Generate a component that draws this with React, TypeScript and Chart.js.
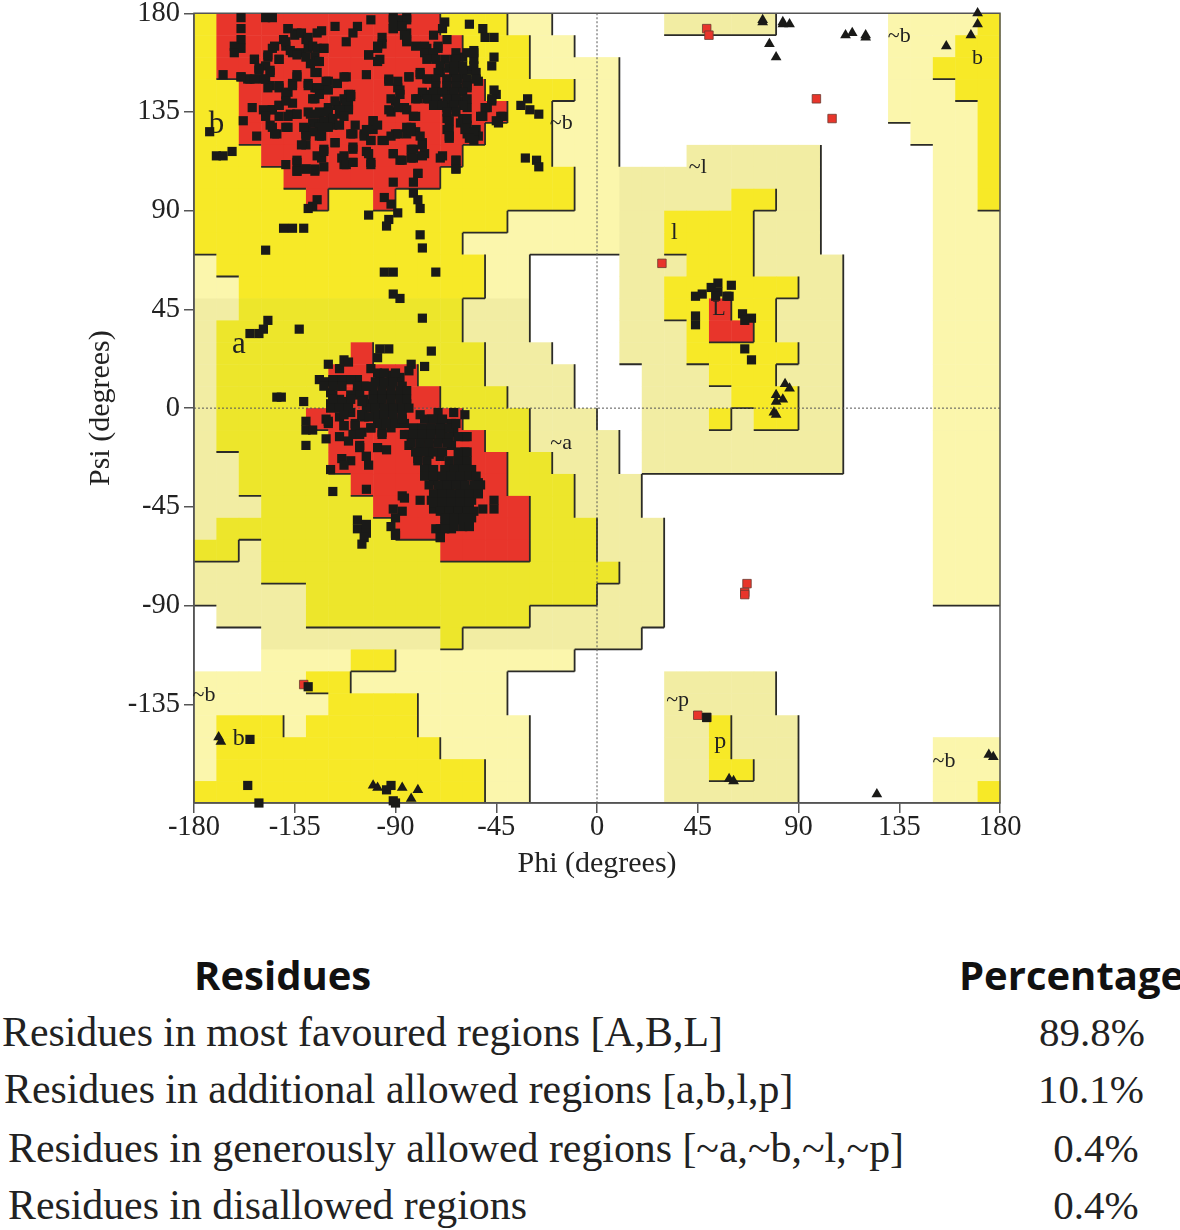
import React, { useEffect, useRef } from "react";
import { Chart, registerables } from "chart.js";

Chart.register(...registerables);

// Region map, one run-length string per psi row (top row psi 170..180), 10 degree cells from phi -180.
// . outside, p generous, k generous (tinted), y allowed, o allowed (tinted), r core
const regionRows = [
  "y1r10y3p2.2.3k5.5p4y1",
  "y1r11y3p2.1.13p3y2",
  "y1r11y3p3p1.12p2y3",
  "y2r11y4p1p1.12p3y2",
  "y2r12y2p2p1.12p4y1",
  "y2r11y3p2p1.13p3y1",
  "y3r9y4p2p1.3k6.5p2y1",
  "y4r7y6p1p1k9.5p2y1",
  "y5r1y2r1y8p1p1k5y2k2.5p2y1",
  "y14p4p1k2y4k3.5p3",
  "y12p6p1k2y4k3.5p3",
  "p1y12p2.3.1k3y3k4.4p3",
  "p2y11p2.3.1k2y6k2.4p3",
  "k2o10k3.3.1k2y2r1y2k3.4p3",
  "k1o11k3.3.1k3y1r2y1k3.4p3",
  "k1o6r1o5k3.2.1k3y5k2.4p3",
  "k1o5r4o3k4.1.2k3y3k3.4p3",
  "k1o5r5o3k3.1.2k4y3k2.4p3",
  "k1o4r7o3k3.2k3y1k1y2k2.4p3",
  "k1o5r7o2k3k1.1k9.4p3",
  "k2o4r8o2k2k1.1k9.4p3",
  "k2o5r7o3k1k2.13p3",
  "k3o5r7o2k1k2.13p3",
  "k1o8r6o3k3.12p3",
  "o2k1o8r4o3k3.12p3",
  "k3o15o1k2.12p3",
  "k5o13k3.12p3",
  ".1k4o10k3k3.15",
  ".3k8o1k6k2.16",
  ".3p4y2p8.1.18",
  "p5y2p7.4.3k5.10",
  "p6y4p4.4.3k5.10",
  "p1y3p1y5p5.3.3k2y1k3.9",
  "p1y10p4.3.3k2y1k3.6p3",
  "p1y12p2.3.3k2y2k2.6p3",
  "y13p2.3.3k6.6p2y1",
];

const regionColors: Record<string, string> = {
  p: "#FBF6AC",
  k: "#F2EDA3",
  y: "#F7E927",
  o: "#EDE62B",
  r: "#E8352B",
};
const regionLevel: Record<string, number> = { ".": 0, p: 1, k: 1, y: 2, o: 2, r: 3 };

const regionLabels: [string, number, number, number][] = [
  ["b", -170, 129, 31],
  ["~b", -16, 130, 22],
  ["~l", 45, 110, 22],
  ["l", 34.5, 80, 24],
  ["L", 54.5, 45, 22],
  ["a", -160, 29, 31],
  ["~a", -16, -16, 22],
  ["~b", 135, 169.5, 22],
  ["b", 170, 159.5, 22],
  ["~b", -175.5, -131, 22],
  ["b", -160, -150.5, 24],
  ["~p", 36, -133, 22],
  ["p", 55, -152, 24],
  ["~b", 155, -161, 22],
];

const generalResidues: [number, number][] = [
  [-159,178],[-159,173],[-159,168],[-162,165],[-159,164],[-162,162],[-148,178],[-145,178],[-167,152],[-159,151],[-155,150],
  [-138,173],[-140,168],[-139,165],[-136,162],[-132,162],[-129,164],[-130,168],[-134,171],[-123,172],[-125,171],[-117,174],[-122,164],[-126,160],[-125,158],
  [-145,164],[-147,160],[-142,159],[-153,159],[-151,155],[-146,154],[-148,150],[-146,147],[-142,146],[-138,144],[-134,151],[-136,148],
  [-125,153],[-129,148],[-126,146],[-120,149],[-122,146],[-126,141],[-116,148],[-112,151],[-111,143],
  [-107,174],[-109,171],[-112,167],[-96,169],[-96,166],[-98,164],[-101,177],[-102,161],[-97,159],[-103,152],
  [-91,178],[-85,178],[-89,175],[-91,173],[-85,171],[-85,167],[-81,165],[-68,176],[-69,173],[-73,170],[-67,168],[-57,175],[-51,173],[-50,169],[-46,169],[-46,160],[-47,156],
  [-76,164],[-71,164],[-74,160],[-68,159],[-64,159],[-60,160],[-55,163],[-55,159],[-66,155],[-61,155],[-57,154],[-70,153],[-67,150],[-62,150],[-58,149],[-53,149],
  [-62,146],[-58,146],[-67,146],[-72,143],[-77,143],[-80,141],[-75,141],[-71,139],[-65,142],[-60,140],[-58,137],[-67,137],[-67,132],[-67,127],[-66,123],
  [-60,132],[-58,129],[-54,127],[-53,124],[-58,125],[-45,143],[-47,140],[-49,137],[-51,133],[-42,133],[-44,130],
  [-31,141],[-34,138],[-30,136],[-26,134],[-32,114],[-27,113],[-26,110],
  [-116,138],[-120,137],[-111,138],[-110,143],[-115,134],[-119,132],[-124,135],[-129,135],[-113,141],[-118,129],[-123,130],[-127,130],[-130,127],[-130,125],[-124,124],
  [-154,137],[-158,131],[-152,124],[-148,135],[-145,136],[-142,138],[-136,139],[-137,134],[-134,134],[-146,129],[-143,125],[-138,128],
  [-130,120],[-139,111],[-134,112],[-134,108],[-130,109],[-126,108],[-122,110],[-125,115],[-122,118],[-117,121],[-109,118],[-113,115],[-113,111],[-109,112],[-103,117],[-101,112],
  [-108,129],[-100,131],[-109,125],[-104,125],[-100,127],[-101,122],[-96,122],[-90,125],[-92,135],[-86,137],[-81,133],[-85,128],[-81,126],[-78,121],[-83,118],[-77,116],[-83,114],[-88,113],[-91,116],
  [-69,115],[-63,113],[-63,109],[-93,150],[-89,146],[-90,140],[-84,151],[-79,153],[-75,150],[-91,103],[-80,107],[-82,103],
  [-125,95],[-127,92],[-129,91],[-95,96],[-92,93],[-89,89],[-93,86],[-94,83],[-102,88],[-82,98],[-80,95],[-79,91],
  [-140,82],[-136,82],[-131,82],[-148,72],[-79,79],[-78,73],[-173,126],[-170,115],[-167,115],[-163,117],
  [-95,62],[-91,62],[-72,62],[-91,52],[-88,50],[-78,41],[-147,40],[-149,36],[-151,34],[-155,34],[-133,36],
  [-74,26],[-77,19],[-93,27],[-97,27],[-98,23],[-83,20],[-84,17],[-120,20],[-113,22],[-111,21],[-115,18],[-124,13],[-121,12],[-116,13],[-111,13],[-107,13],[-104,10],[-101,18],
  [-119,7],[-114,10],[-119,2],[-115,4],[-111,3],[-107,7],
  [-97,15],[-92,15],[-88,14],[-96,11],[-92,11],[-87,10],[-98,6],[-94,6],[-90,6],[-86,6],[-101,2],[-97,2],[-92,2],[-88,0],[-85,2],[-94,-2],[-98,-4],
  [-143,5],[-141,5],[-131,3],[-130,-6],[-130,-10],[-127,-10],[-130,-17],[-121,-5],[-120,-7],[-121,-14],[-115,-4],[-113,-8],[-108,-7],[-110,-2],[-105,-3],[-104,-4],
  [-101,-9],[-92,-9],[-87,-6],[-96,-11],[-115,-13],[-111,-15],[-105,-11],[-109,-12],[-106,-17],[-98,-18],[-94,-19],[-103,-22],[-102,-26],[-114,-23],[-110,-24],[-113,-26],[-119,-28],[-103,-37],[-118,-38],[-79,-3],
  [-71,-2],[-74,-5],[-70,-7],[-65,-7],[-78,-10],[-73,-10],[-69,-10],[-84,-12],[-79,-13],[-75,-14],[-70,-14],[-64,-11],[-59,-3],[-59,-13],[-84,-17],[-79,-17],[-75,-17],[-65,-17],[-75,-21],[-80,-23],[-70,-22],[-59,-20],[-62,-24],[-59,-24],
  [-65,-28],[-61,-28],[-57,-30],[-76,-30],[-73,-33],[-68,-33],[-64,-33],[-60,-33],[-53,-34],[-70,-37],[-66,-37],[-61,-37],[-57,-37],[-53,-39],[-79,-42],[-74,-42],[-69,-42],[-65,-42],[-60,-42],[-56,-42],[-73,-46],[-69,-46],[-65,-46],[-60,-46],[-67,-51],[-62,-51],[-58,-51],[-65,-55],[-70,-55],[-58,-53],
  [-51,-46],[-46,-46],[-46,-42],[-87,-40],[-86,-41],[-91,-46],[-87,-47],[-90,-50],[-92,-54],[-90,-57],[-107,-51],[-107,-55],[-103,-53],[-103,-57],[-104,-59],[-105,-62],[-90,-58],[-70,-59],
  [-129,-127],[-155,-151],[-156,-172],[-151,-180],[-92,-172],[-94,-174],[-91,-179],[-90,-180],
  [54,57],[60,56],[51,55],[47,52],[44,51],[54,53],[58,51],[53,51],[59,51],[44,42],[44,38],[65,43],[69,41],[66,40],[66,27],[69,22],
  [49,-141],
];

// Second, closer reading of the crowded part of the alpha basin.
const alphaCluster: [number, number][] = [
  [-98,16],[-95,16],[-90,16],[-99,12],[-95,12],[-91,12],[-100,8],[-96,8],[-92,8],[-88,8],[-85,8],
  [-104,4],[-100,4],[-96,4],[-92,4],[-88,4],[-85,4],[-103,0],[-99,0],[-95,0],[-91,0],[-87,0],[-84,0],
  [-99,-3],[-95,-3],[-91,-3],[-87,-3],[-98,-7],[-94,-7],[-90,-7],[-86,-7],
  [-77,-5],[-73,-5],[-69,-5],[-82,-9],[-78,-9],[-74,-9],[-70,-9],[-66,-9],[-86,-12],[-82,-12],[-78,-12],[-74,-12],[-70,-12],[-66,-13],[-62,-13],[-58,-13],
  [-83,-16],[-79,-16],[-75,-16],[-71,-16],[-67,-16],[-81,-20],[-77,-20],[-73,-20],[-69,-20],[-63,-7],[-64,-2],[-80,-24],[-76,-24],
  [-62,-20],[-58,-20],[-66,-24],[-62,-24],[-58,-24],[-77,-28],[-73,-28],[-68,-28],[-64,-28],[-60,-28],[-56,-28],
  [-77,-31],[-73,-31],[-69,-31],[-65,-31],[-61,-31],[-57,-31],[-54,-31],[-75,-35],[-71,-35],[-67,-35],[-63,-35],[-59,-35],[-55,-35],[-52,-35],
  [-73,-39],[-69,-39],[-65,-39],[-61,-39],[-57,-39],[-53,-39],[-73,-43],[-69,-43],[-65,-43],[-61,-43],[-57,-43],
  [-70,-47],[-66,-47],[-62,-47],[-58,-47],[-55,-47],[-68,-50],[-64,-50],[-60,-50],[-56,-50],[-68,-54],[-64,-54],[-60,-54],[-57,-54],[-72,-55],[-68,-55],[-70,-59],
  [-118,13],[-114,13],[-110,13],[-122,10],[-118,10],[-114,10],[-107,10],[-103,10],[-118,6],[-110,6],[-106,6],[-118,4],[-114,3],[-110,4],[-105,3],[-119,0],[-115,0],[-111,0],
  [-113,-3],[-113,-8],[-120,-6],[-105,-3],[-102,-4],[-108,-8],[-101,-9],[-87,-5],[-96,-12],[-106,-12],[-106,-18],[-103,-22],
];

// Second, closer reading of the crowded part of the beta basin.
const betaCluster: [number, number][] = [
  [-138,173],[-135,170],[-132,171],[-139,167],[-129,169],[-137,163],[-127,165],[-134,161],[-130,160],[-125,164],[-122,164],[-124,158],[-128,157],
  [-144,165],[-153,159],[-147,161],[-142,159],[-148,156],[-151,154],[-146,153],[-149,150],[-147,146],[-142,147],[-139,143],[-136,147],[-134,152],[-156,150],[-159,151],[-153,150],
  [-149,136],[-145,136],[-142,138],[-139,140],[-142,133],[-138,133],[-134,134],[-148,133],[-145,128],[-144,125],[-139,128],
  [-117,140],[-112,139],[-110,142],[-111,136],[-115,136],[-120,135],[-124,134],[-128,134],[-113,133],[-118,132],[-122,131],[-115,129],[-120,128],[-124,128],[-131,128],[-127,126],[-123,124],[-130,124],
  [-126,153],[-121,149],[-116,148],[-113,151],[-129,147],[-125,146],[-120,145],[-127,141],[-124,143],
  [-132,120],[-134,113],[-134,108],[-130,109],[-126,109],[-123,114],[-122,117],[-117,121],[-114,114],[-112,111],[-109,112],[-109,119],[-104,124],[-110,125],
  [-91,177],[-87,177],[-85,177],[-91,173],[-87,174],[-86,170],[-85,168],[-98,165],[-102,161],[-98,158],
  [-77,165],[-71,165],[-77,162],[-73,162],[-63,162],[-58,162],[-55,162],[-76,159],[-72,159],[-63,159],[-70,156],[-64,156],[-60,156],[-55,156],
  [-71,153],[-64,153],[-60,153],[-54,153],[-72,150],[-67,150],[-63,150],[-58,150],[-54,150],[-72,147],[-67,147],[-63,147],[-58,147],
  [-78,144],[-73,144],[-69,144],[-64,144],[-60,144],[-81,141],[-76,141],[-72,141],[-67,141],[-63,141],[-58,141],[-73,138],[-69,138],[-64,138],[-60,138],[-67,135],[-63,135],
  [-66,131],[-66,127],[-66,124],[-61,130],[-58,132],[-59,127],[-55,126],[-55,122],[-57,123],
  [-93,149],[-89,149],[-88,145],[-88,143],[-92,141],[-93,136],[-89,137],[-85,136],[-82,133],[-83,128],[-79,124],[-78,120],[-82,118],[-82,114],[-78,115],
  [-84,151],[-79,152],[-76,150],[-100,131],[-103,127],[-98,129],[-101,122],[-95,122],[-92,124],[-89,125],[-85,125],[-83,127],
  [-91,116],[-87,113],[-102,116],[-101,111],[-70,114],[-63,113],[-63,109],[-80,107],
  [-46,145],[-47,141],[-50,137],[-52,133],[-43,133],[-45,131],
];

const glycineResidues: [number, number][] = [
  [74,177],[74,176],[83,176],[83,175],[86,175],[77,166],[80,160],[111,170],[114,171],[120,170],[120,169],[170,180],[170,175],[167,170],[156,165],
  [84,11],[86,9],[80,6],[83,4],[80,3],[79,-2],[80,-3],
  [59,-169],[61,-170],[125,-176],[175,-158],[177,-159],
  [-100,-172],[-98,-173],[-169,-150],[-168,-152],[-87,-173],[-80,-174],[-83,-178],
];

const disallowedResidues: [number, number][] = [
  [-131,-126],[49,173],[50,170],[98,141],[105,132],[29,66],[67,-80],[66,-84],[66,-85],[45,-140],[49,-141],
];

const xTitle = "Phi (degrees)";
const yTitle = "Psi (degrees)";
const tableHeaders = ["Residues", "Percentage"];
const rowLabels = [
  "Residues in most favoured regions [A,B,L]",
  "Residues in additional allowed regions [a,b,l,p]",
  "Residues in generously allowed regions [~a,~b,~l,~p]",
  "Residues in disallowed regions",
];
const rowPercents = ["89.8%", "10.1%", "0.4%", "0.4%"];

const SERIF = '"Liberation Serif", serif';

function parseRow(row: string): string[] {
  const out: string[] = [];
  for (const m of row.matchAll(/([.pkyor])(\d+)/g)) {
    for (let i = 0; i < Number(m[2]); i++) out.push(m[1]);
  }
  return out;
}

const regionPlugin = {
  id: "regions",
  beforeDraw(chart: any) {
    const { ctx, scales } = chart;
    const xs = scales.x;
    const ys = scales.y;
    const grid = regionRows.map(parseRow);
    ctx.save();
    grid.forEach((cells, r) => {
      cells.forEach((c, col) => {
        if (c === ".") return;
        const x0 = xs.getPixelForValue(-180 + col * 10);
        const x1 = xs.getPixelForValue(-170 + col * 10);
        const y0 = ys.getPixelForValue(180 - r * 10);
        const y1 = ys.getPixelForValue(170 - r * 10);
        ctx.fillStyle = regionColors[c];
        ctx.fillRect(x0, y0, x1 - x0 + 0.5, y1 - y0 + 0.5);
      });
    });
    ctx.strokeStyle = "#2b2b28";
    ctx.lineWidth = 1.8;
    ctx.beginPath();
    grid.forEach((cells, r) => {
      cells.forEach((c, col) => {
        const lv = regionLevel[c];
        if (lv === 0) return;
        const x1 = xs.getPixelForValue(-170 + col * 10);
        const x0 = xs.getPixelForValue(-180 + col * 10);
        const y0 = ys.getPixelForValue(180 - r * 10);
        const y1 = ys.getPixelForValue(170 - r * 10);
        const right = cells[col + 1];
        if (right !== undefined && regionLevel[right] < lv) {
          ctx.moveTo(x1, y0);
          ctx.lineTo(x1, y1);
        }
        const below = grid[r + 1] ? grid[r + 1][col] : undefined;
        if (below !== undefined && regionLevel[below] < lv) {
          ctx.moveTo(x0, y1);
          ctx.lineTo(x1, y1);
        }
      });
    });
    ctx.stroke();
    ctx.restore();
  },
  beforeDatasetsDraw(chart: any) {
    const { ctx, scales, chartArea } = chart;
    const xs = scales.x;
    const ys = scales.y;
    ctx.save();
    ctx.strokeStyle = "#555";
    ctx.lineWidth = 1;
    ctx.setLineDash([2, 2]);
    ctx.beginPath();
    ctx.moveTo(xs.getPixelForValue(0), chartArea.top);
    ctx.lineTo(xs.getPixelForValue(0), chartArea.bottom);
    ctx.moveTo(chartArea.left, ys.getPixelForValue(0));
    ctx.lineTo(chartArea.right, ys.getPixelForValue(0));
    ctx.stroke();
    ctx.setLineDash([]);
    ctx.lineWidth = 1.5;
    ctx.strokeStyle = "#555";
    ctx.strokeRect(chartArea.left, chartArea.top, chartArea.right - chartArea.left, chartArea.bottom - chartArea.top);
    ctx.fillStyle = "#222";
    ctx.textAlign = "center";
    ctx.textBaseline = "middle";
    regionLabels.forEach(([t, phi, psi, size]) => {
      ctx.font = `${size}px ${SERIF}`;
      ctx.fillText(t, xs.getPixelForValue(phi), ys.getPixelForValue(psi));
    });
    ctx.restore();
  },
};

export default function App() {
  const ref = useRef<HTMLCanvasElement>(null);
  useEffect(() => {
    const chart = new Chart(ref.current as HTMLCanvasElement, {
      type: "scatter",
      plugins: [regionPlugin],
      data: {
        datasets: [
          {
            label: "General",
            data: [...generalResidues, ...alphaCluster, ...betaCluster].map(([x, y]) => ({ x, y })),
            pointStyle: "rect",
            pointRadius: 6.5,
            pointBackgroundColor: "#1A1A18",
            pointBorderWidth: 0,
            clip: false,
          },
          {
            label: "Glycine",
            data: glycineResidues.map(([x, y]) => ({ x, y })),
            pointStyle: "triangle",
            pointRadius: 6.2,
            pointBackgroundColor: "#1A1A18",
            pointBorderWidth: 0,
            clip: false,
          },
          {
            label: "Disallowed",
            data: disallowedResidues.map(([x, y]) => ({ x, y })),
            pointStyle: "rect",
            pointRadius: 6,
            pointBackgroundColor: "#E8352B",
            pointBorderColor: "#6b3a30",
            pointBorderWidth: 0.8,
            clip: false,
          },
        ],
      } as any,
      options: {
        animation: false,
        responsive: false,
        layout: { padding: { left: 83, top: 13, right: 180, bottom: 13 } },
        plugins: { legend: { display: false }, tooltip: { enabled: false } },
        scales: {
          x: {
            type: "linear",
            min: -180,
            max: 180,
            afterFit: (s: any) => { s.height = 79; },
            border: { color: "#555", width: 1.5 },
            grid: { drawOnChartArea: false, color: "#555", tickLength: 10, lineWidth: 1.5 },
            ticks: { stepSize: 45, autoSkip: false, maxRotation: 0, color: "#222", padding: 0, font: { family: SERIF, size: 28.5, lineHeight: 1 } },
            title: { display: true, text: xTitle, color: "#222", padding: 0, font: { family: SERIF, size: 30 } },
          },
          y: {
            type: "linear",
            min: -180,
            max: 180,
            afterFit: (s: any) => { s.width = 111; },
            border: { color: "#555", width: 1.5 },
            grid: {
              drawOnChartArea: false,
              tickLength: 10,
              lineWidth: 1.5,
              tickColor: (c: any) => (c.tick && c.tick.value === -180 ? "rgba(0,0,0,0)" : "#555"),
            },
            ticks: {
              stepSize: 45,
              autoSkip: false,
              color: "#222",
              padding: 4,
              font: { family: SERIF, size: 28.5, lineHeight: 1 },
              callback: (v: any) => (v === -180 ? "" : String(v)),
            },
            title: { display: true, text: yTitle, color: "#222", padding: 0, font: { family: SERIF, size: 30 } },
          },
        },
      },
    } as any);
    return () => chart.destroy();
  }, []);

  const rowTop = [1009, 1066, 1125, 1182];
  const rowLeft = [2, 4, 8, 8];
  const pctCenter = [1092, 1091, 1096, 1096];
  const canvasTop = -(14.25 + 4 - 13);
  return (
    <div style={{ position: "absolute", left: 0, top: 0, width: 1180, height: 1230, background: "#fff", overflow: "hidden" }}>
      <canvas ref={ref} width={1180} height={900} style={{ position: "absolute", left: 0, top: canvasTop, width: 1180, height: 900 }} />
      <div style={{ position: "absolute", left: 194, top: 950, font: 'bold 40px "Open Sans", sans-serif', color: "#111", whiteSpace: "nowrap", lineHeight: "50px" }}>{tableHeaders[0]}</div>
      <div style={{ position: "absolute", left: 959, top: 950, font: 'bold 40px "Open Sans", sans-serif', color: "#111", whiteSpace: "nowrap", lineHeight: "50px" }}>{tableHeaders[1]}</div>
      {rowLabels.map((t, i) => (
        <div key={t} style={{ position: "absolute", left: rowLeft[i], top: rowTop[i], font: `41.8px ${SERIF}`, color: "#222", whiteSpace: "nowrap", lineHeight: "46px" }}>{t}</div>
      ))}
      {rowPercents.map((t, i) => (
        <div key={t + i} style={{ position: "absolute", left: pctCenter[i] - 100, width: 200, textAlign: "center", top: rowTop[i], font: `41px ${SERIF}`, color: "#222", lineHeight: "46px" }}>{t}</div>
      ))}
    </div>
  );
}
